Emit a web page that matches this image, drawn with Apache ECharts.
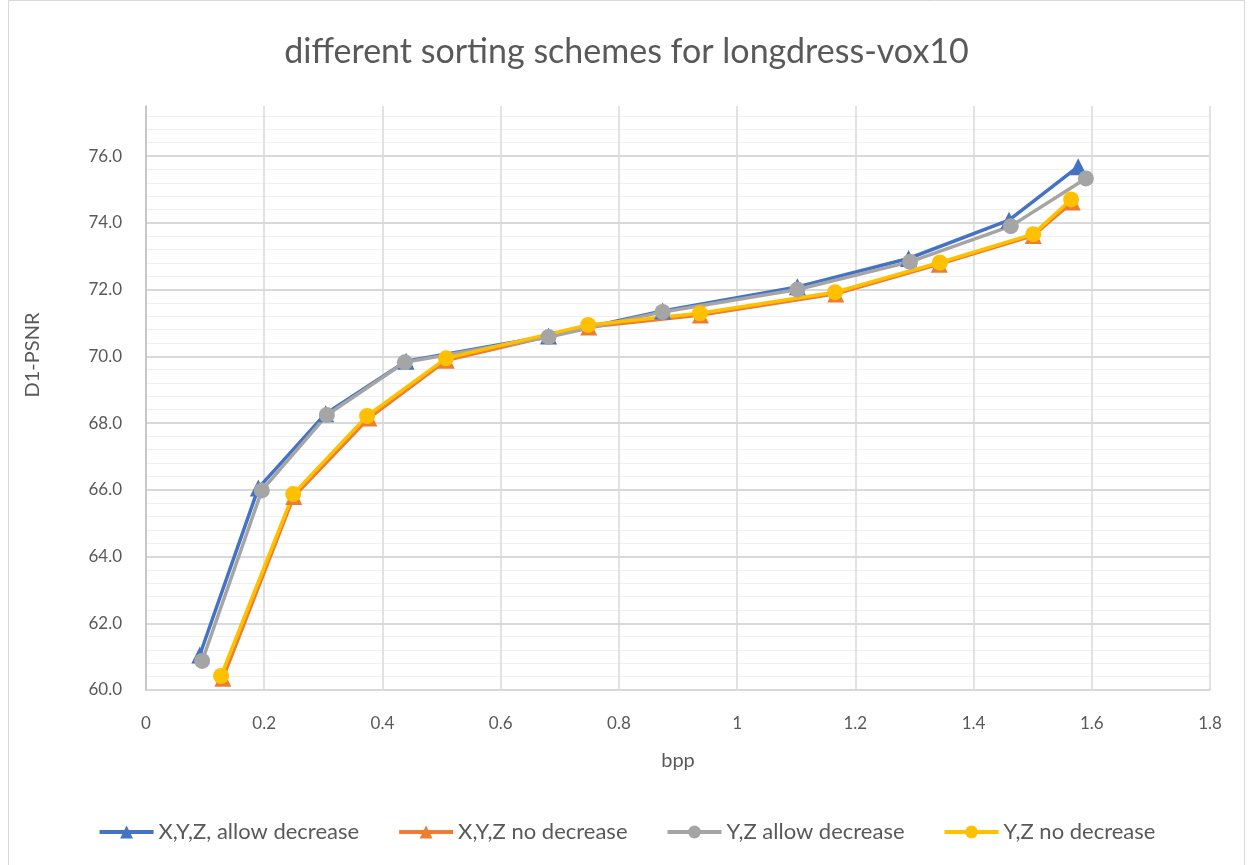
<!DOCTYPE html>
<html>
<head>
<meta charset="utf-8">
<script src="https://cdn.jsdelivr.net/npm/echarts@6/dist/echarts.min.js"></script>
<style>html,body{margin:0;padding:0;background:#fff}#c{width:1253px;height:865px}</style>
</head>
<body>
<div id="c"></div>
<script>
const seriesNames = ['X,Y,Z, allow decrease', 'X,Y,Z no decrease', 'Y,Z allow decrease', 'Y,Z no decrease'];
const xyzAllow = [[0.091,61.05],[0.19,66.05],[0.304,68.28],[0.44,69.85],[0.681,70.61],[0.874,71.36],[1.102,72.08],[1.29,72.93],[1.46,74.08],[1.577,75.68]];
const xyzNo = [[0.13,60.35],[0.25,65.8],[0.377,68.15],[0.508,69.88],[0.749,70.88],[0.938,71.24],[1.167,71.87],[1.342,72.76],[1.501,73.62],[1.567,74.62]];
const yzAllow = [[0.095,60.87],[0.196,65.98],[0.306,68.24],[0.438,69.82],[0.681,70.58],[0.874,71.33],[1.102,72.0],[1.2925,72.83],[1.463,73.9],[1.59,75.33]];
const yzNo = [[0.127,60.42],[0.249,65.87],[0.374,68.21],[0.5075,69.94],[0.748,70.94],[0.937,71.29],[1.1656,71.92],[1.343,72.81],[1.501,73.66],[1.565,74.70]];
const colors = ['#4472C4', '#ED7D31', '#A5A5A5', '#FFC000'];
const symbols = ['triangle', 'triangle', 'circle', 'circle'];
const datasets = [xyzAllow, xyzNo, yzAllow, yzNo];

const FONT = 'Lato';
const chart = echarts.init(document.getElementById('c'), null, {renderer: 'canvas'});
chart.setOption({
  backgroundColor: '#fff',
  animation: false,
  title: {
    text: 'different sorting schemes for longdress-vox10',
    left: 'center', top: 30,
    textStyle: {fontFamily: FONT, fontSize: 34, fontWeight: 'normal', color: '#595959'}
  },
  graphic: [{
    type: 'rect', shape: {x: 8.5, y: 0.5, width: 1236, height: 866},
    style: {fill: 'none', stroke: '#d9d9d9', lineWidth: 1}, silent: true, z: -10
  }, {
    type: 'text', x: 33, y: 355, rotation: Math.PI / 2,
    style: {text: 'D1-PSNR', fontFamily: FONT, fontSize: 20, fill: '#595959', align: 'center', verticalAlign: 'middle'},
    silent: true
  }],
  legend: {
    bottom: 17, left: 'center',
    itemWidth: 54, itemHeight: 16, itemGap: 38,
    textStyle: {fontFamily: FONT, fontSize: 22, color: '#595959'},
    lineStyle: {width: 4},
    data: seriesNames
  },
  grid: {left: 146, right: 43, top: 106, bottom: 175, containLabel: false},
  xAxis: {
    type: 'value', min: 0, max: 1.8, interval: 0.2,
    name: 'bpp', nameLocation: 'middle', nameGap: 61,
    nameTextStyle: {fontFamily: FONT, fontSize: 20, color: '#595959'},
    axisLine: {lineStyle: {color: '#bfbfbf', width: 1.5}},
    axisTick: {show: false},
    axisLabel: {fontFamily: FONT, fontSize: 17, color: '#595959', margin: 25},
    splitLine: {show: true, lineStyle: {color: '#d9d9d9', width: 1.5}}
  },
  yAxis: [{
    type: 'value', min: 60, max: 77.5, interval: 2,
    axisLine: {show: true, lineStyle: {color: '#bfbfbf', width: 1.5}},
    axisTick: {show: false},
    axisLabel: {fontFamily: FONT, fontSize: 17, color: '#595959', margin: 24, showMaxLabel: false,
      formatter: v => v.toFixed(1)},
    splitLine: {show: true, showMaxLine: false, lineStyle: {color: '#d9d9d9', width: 2}},
    z: 2
  }, {
    type: 'value', min: 60, max: 77.5, interval: 0.4, position: 'left',
    axisLine: {show: false}, axisTick: {show: false}, axisLabel: {show: false},
    splitLine: {show: true, showMaxLine: false, lineStyle: {color: '#f0f0f0', width: 1.2}},
    z: 0
  }],
  series: datasets.map((d, i) => ({
    name: seriesNames[i], type: 'line', data: d, yAxisIndex: 0,
    symbol: symbols[i], symbolSize: symbols[i] === 'triangle' ? 17 : 16,
    showAllSymbol: true,
    lineStyle: {color: colors[i], width: 3.5},
    itemStyle: {color: colors[i], borderWidth: 0},
    emphasis: {disabled: true}
  }))
});
</script>
</body>
</html>
